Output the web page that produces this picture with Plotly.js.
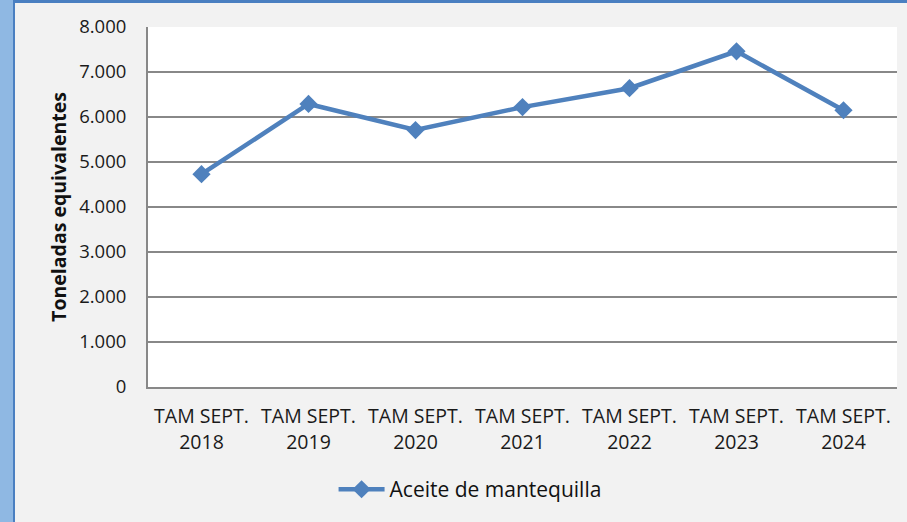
<!DOCTYPE html>
<html>
<head>
<meta charset="utf-8">
<script src="https://cdn.plot.ly/plotly-3.0.1.min.js"></script>
<style>
  html, body { margin: 0; padding: 0; width: 907px; height: 522px; overflow: hidden; background: #8fb8e3; }
  #frame { position: absolute; left: 13px; top: 0; width: 892px; height: 519px; background: #f2f2f2;
           border-left: 2px solid #4a7fc1; border-top: 3px solid #4a7fc1; }
  #chart { position: absolute; left: 0; top: 0; width: 907px; height: 522px; }
</style>
</head>
<body>
<div id="frame"></div>
<div id="chart"></div>
<script>
const categories = ["TAM SEPT.<br>2018", "TAM SEPT.<br>2019", "TAM SEPT.<br>2020", "TAM SEPT.<br>2021", "TAM SEPT.<br>2022", "TAM SEPT.<br>2023", "TAM SEPT.<br>2024"];
const aceiteValues = [4730, 6290, 5710, 6220, 6640, 7460, 6150];
const seriesName = "Aceite de mantequilla";
const yTitle = "Toneladas equivalentes";

const fontFamily = "'Open Sans', 'Liberation Sans', sans-serif";

const trace = {
  type: "scatter",
  mode: "lines+markers",
  x: categories,
  y: aceiteValues,
  name: seriesName,
  line: { color: "#4f81bd", width: 4.5 },
  marker: { symbol: "diamond", size: 14, color: "#4f81bd" }
};

const layout = {
  width: 907,
  height: 522,
  margin: { l: 148, r: 10, t: 27, b: 135, autoexpand: false },
  paper_bgcolor: "rgba(0,0,0,0)",
  plot_bgcolor: "#ffffff",
  separators: ",.",
  font: { family: fontFamily, size: 18, color: "#1a1a1a" },
  showlegend: true,
  legend: {
    orientation: "h",
    x: 0.43, xanchor: "center", xref: "paper",
    y: -0.285, yanchor: "middle",
    itemwidth: 46,
    font: { family: fontFamily, size: 21, color: "#111111" },
    bgcolor: "rgba(0,0,0,0)"
  },
  xaxis: {
    type: "category",
    range: [-0.5, 6.5],
    showgrid: false,
    showline: true,
    linecolor: "#888888",
    linewidth: 2,
    ticks: "",
    tickangle: 0,
    ticklabelstandoff: 11,
    tickfont: { family: fontFamily, size: 19.5, color: "#1a1a1a" },
    automargin: false,
    fixedrange: true
  },
  yaxis: {
    range: [0, 8000],
    dtick: 1000,
    tick0: 0,
    tickformat: ",d",
    showgrid: true,
    gridcolor: "#888888",
    gridwidth: 2,
    zeroline: false,
    showline: true,
    linecolor: "#888888",
    linewidth: 2,
    ticks: "",
    ticklabelstandoff: 16,
    tickfont: { family: fontFamily, size: 18.5, color: "#1a1a1a" },
    title: { text: "<b>" + yTitle + "</b>", font: { family: fontFamily, size: 19.5, color: "#111111" }, standoff: 7 },
    automargin: false,
    fixedrange: true
  }
};

Plotly.newPlot("chart", [trace], layout, { displayModeBar: false, staticPlot: true });
</script>
</body>
</html>
